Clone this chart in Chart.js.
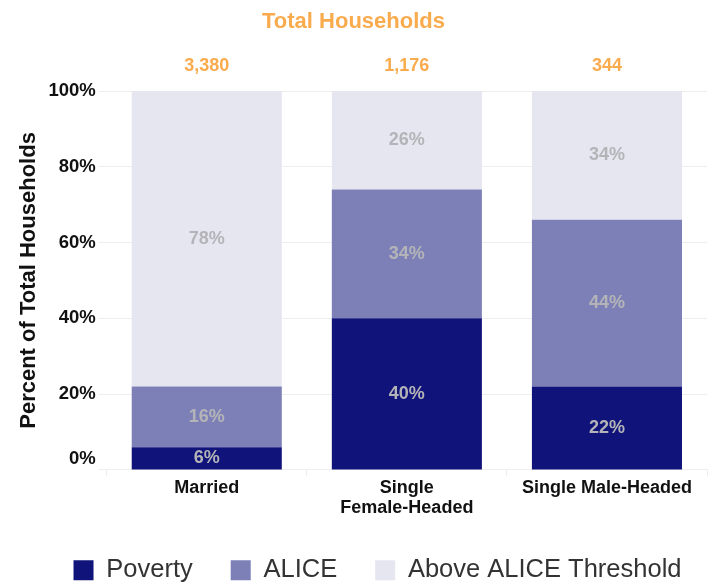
<!DOCTYPE html>
<html>
<head>
<meta charset="utf-8">
<script src="https://cdn.jsdelivr.net/npm/chart.js@4/dist/chart.umd.min.js"></script>
<style>
  html, body { margin: 0; padding: 0; background: #fff; }
  #wrap { width: 714px; height: 588px; }
</style>
</head>
<body>
<div id="wrap"><canvas id="chart" width="714" height="588"></canvas></div>
<script>
  // data
  const categories = ["Married", ["Single", "Female-Headed"], "Single Male-Headed"];
  const totals = ["3,380", "1,176", "344"];
  const poverty = [6, 40, 22];
  const alice = [16, 34, 44];
  const aboveAlice = [78, 26, 34];
  const yTicks = [0, 20, 40, 60, 80, 100];

  const fontFamily = "'Liberation Sans', Arial, sans-serif";
  const orange = "#FAAB4E";

  // percent labels in the middle of every segment
  const segmentLabels = {
    id: "segmentLabels",
    afterDatasetsDraw(chart) {
      const ctx = chart.ctx;
      ctx.save();
      ctx.font = "bold 18px " + fontFamily;
      ctx.fillStyle = "#B4B4B8";
      ctx.textAlign = "center";
      ctx.textBaseline = "middle";
      chart.data.datasets.forEach((ds, i) => {
        const meta = chart.getDatasetMeta(i);
        meta.data.forEach((bar, j) => {
          ctx.fillText(ds.data[j] + "%", bar.x, (bar.y + bar.base) / 2);
        });
      });
      ctx.restore();
    }
  };

  // legend sits a bit right of the canvas centre in the original
  const legendShift = {
    id: "legendShift",
    afterLayout(chart) {
      chart.legend.left += 24;
      chart.legend.right += 24;
    }
  };

  let chart = new Chart(document.getElementById("chart"), {
    type: "bar",
    data: {
      labels: categories,
      datasets: [
        {
          label: "Poverty",
          data: poverty,
          backgroundColor: "#10137A"
        },
        {
          label: "ALICE",
          data: alice,
          backgroundColor: "#7C80B6"
        },
        {
          label: "Above ALICE Threshold",
          data: aboveAlice,
          backgroundColor: "#E6E6F1"
        },
      ],
    },
    plugins: [segmentLabels, legendShift],
    options: {
      responsive: false,
      animation: false,
      barPercentage: 0.75,
      categoryPercentage: 1,
      layout: {
        padding: { left: 0, right: 7, top: 0, bottom: -5 }
      },
      plugins: {
        title: {
          display: true,
          text: "Total Households",
          color: orange,
          font: { family: fontFamily, size: 22, weight: "bold" },
          padding: { top: 9, bottom: 14 }
        },
        legend: {
          position: "bottom",
          labels: {
            boxWidth: 20,
            boxHeight: 20,
            padding: 38,
            color: "#333",
            font: { family: fontFamily, size: 25.5 }
          }
        },
        tooltip: { enabled: false }
      },
      scales: {
        x: {
          stacked: true,
          grid: {
            display: true,
            drawOnChartArea: false,
            offset: true,
            color: "#eee",
            tickLength: 6
          },
          border: { color: "#eee" },
          ticks: {
            color: "#111",
            padding: 2,
            font: { family: fontFamily, size: 18, weight: "bold", lineHeight: 1.1 }
          }
        },
        xTop: {
          type: "category",
          axis: "x",
          position: "top",
          labels: totals,
          offset: true,
          grid: { display: false },
          border: { display: false },
          ticks: {
            color: orange,
            padding: 6,
            font: { family: fontFamily, size: 18, weight: "bold" }
          }
        },
        y: {
          stacked: true,
          min: 0,
          max: 100,
          afterBuildTicks: (axis) => {
            axis.ticks = yTicks.map((v) => ({ value: v }));
          },
          grid: { color: "#eee", tickLength: 8 },
          border: { display: false },
          ticks: {
            color: "#111",
            padding: 3,
            font: { family: fontFamily, size: 18.5, weight: "bold" },
            // the 0% label sits a little above the baseline in the original
            callback: (v) => (v === 0 ? ["0%", ""] : v + "%")
          },
          title: {
            display: true,
            text: "Percent of Total Households",
            color: "#111",
            font: { family: fontFamily, size: 22, weight: "bold" },
            padding: { top: 16, bottom: 3 }
          }
        }
      }
    }
  });
</script>
</body>
</html>
